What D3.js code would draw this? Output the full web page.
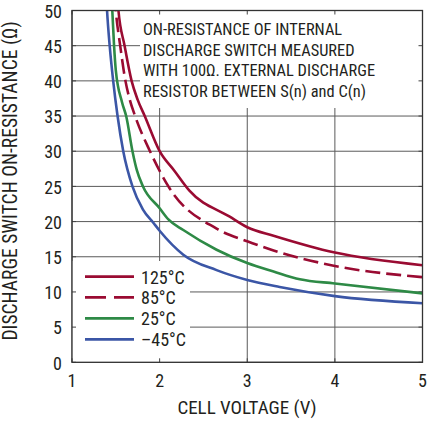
<!DOCTYPE html>
<html><head><meta charset="utf-8">
<script src="https://cdn.jsdelivr.net/npm/d3@7"></script>
<style>
body{margin:0;background:#fff;}
svg text{font-family:"Liberation Sans Narrow","Roboto Condensed","Arial Narrow",sans-serif;fill:#231f20;}
</style></head>
<body><svg id="c" width="427" height="423"></svg>
<script>
const xTicks = [1, 2, 3, 4, 5];
const yTicks = [0, 5, 10, 15, 20, 25, 30, 35, 40, 45, 50];
const seriesNames = ["125°C", "85°C", "25°C", "–45°C"];
const v125 = [[1.50,55],[1.53,50],[1.60,45],[1.68,40],[1.75,37.3],[1.83,35],[2.0,30],[2.17,27.2],[2.34,24.4],[2.8,20.7],[3.0,19.2],[3.3,18.0],[4.0,15.6],[5.0,13.8]];
const v85 = [[1.47,55],[1.50,50],[1.55,45],[1.61,40],[1.66,37.3],[1.72,35],[1.89,30],[2.10,25],[2.65,19.0],[3.0,17.2],[3.3,15.9],[4.0,13.7],[5.0,12.1]];
const v25 = [[1.44,55],[1.46,50],[1.48,45],[1.50,41.5],[1.57,37],[1.62,34.9],[1.69,30],[1.74,27.3],[1.81,25],[2.0,21.9],[2.10,20.3],[2.27,18.8],[2.65,16.0],[3.0,14.1],[3.3,12.9],[3.6,11.8],[4.0,11.2],[5.0,9.8]];
const vm45 = [[1.38,55],[1.40,50],[1.43,45],[1.47,40],[1.52,35],[1.585,30],[1.69,25],[1.81,21.7],[1.93,19.8],[2.0,18.7],[2.27,15.3],[2.65,13.1],[3.0,11.7],[3.37,10.7],[4.0,9.4],[5.0,8.4]];
const annotation = ["ON-RESISTANCE OF INTERNAL","DISCHARGE SWITCH MEASURED","WITH 100Ω. EXTERNAL DISCHARGE","RESISTOR BETWEEN S(n) and C(n)"];
const xTitle = "CELL VOLTAGE (V)";
const yTitle = "DISCHARGE SWITCH ON-RESISTANCE (Ω)";

const colors = ["#9a0b32","#9a0b32","#2e8a46","#3b56a6"];
const dashes = [null,"15,6",null,null];
const data = [v125, v85, v25, vm45];

const L=72, R=422.5, T=10.5, B=362.3;
const x = d3.scaleLinear().domain([1,5]).range([L,R]);
const y = d3.scaleLinear().domain([0,50]).range([B,T]);
const svg = d3.select("#c");

// grid
const g = svg.append("g");
g.selectAll(".vg").data(xTicks).enter().append("line")
 .attr("x1",d=>x(d)).attr("x2",d=>x(d)).attr("y1",T).attr("y2",B)
 .attr("stroke","#5a5a5a").attr("stroke-width",1);
g.selectAll(".hg").data(yTicks).enter().append("line")
 .attr("x1",L).attr("x2",R).attr("y1",d=>y(d)).attr("y2",d=>y(d))
 .attr("stroke","#5a5a5a").attr("stroke-width",1);

// white boxes
svg.append("rect").attr("x",140).attr("y",T).attr("width",R-140).attr("height",108-T).attr("fill","#fff");
svg.append("rect").attr("x",L).attr("y",261).attr("width",190-L).attr("height",B-261).attr("fill","#fff");

// inner ticks
const tk = svg.append("g").attr("stroke","#444").attr("stroke-width",1);
xTicks.forEach(d=>{
  tk.append("line").attr("x1",x(d)).attr("x2",x(d)).attr("y1",T).attr("y2",T+4);
  tk.append("line").attr("x1",x(d)).attr("x2",x(d)).attr("y1",B).attr("y2",B-4);
});
yTicks.forEach(d=>{
  tk.append("line").attr("x1",L).attr("x2",L+4).attr("y1",y(d)).attr("y2",y(d));
  tk.append("line").attr("x1",R).attr("x2",R-4).attr("y1",y(d)).attr("y2",y(d));
});

// annotation
const at = svg.append("text").attr("font-size",16.4);
annotation.forEach((t,i)=>{
  at.append("tspan").attr("x",143).attr("y",35+i*20.7).text(t);
});

// curves
svg.append("clipPath").attr("id","clip").append("rect").attr("x",L).attr("y",T).attr("width",R-L).attr("height",B-T);
const line = d3.line().x(d=>x(d[0])).y(d=>y(d[1])).curve(d3.curveMonotoneX);
const cg = svg.append("g").attr("clip-path","url(#clip)");
data.forEach((s,i)=>{
  cg.append("path").attr("d",line(s)).attr("fill","none")
   .attr("stroke",colors[i]).attr("stroke-width",2.6)
   .attr("stroke-dasharray",dashes[i]);
});

// frame
svg.append("rect").attr("x",L).attr("y",T).attr("width",R-L).attr("height",B-T)
 .attr("fill","none").attr("stroke","#333").attr("stroke-width",1.3);

// legend
const ly = [276.7,297.3,318.3,339.3];
seriesNames.forEach((n,i)=>{
  svg.append("line").attr("x1",85).attr("x2",134).attr("y1",ly[i]).attr("y2",ly[i])
   .attr("stroke",colors[i]).attr("stroke-width",2.8).attr("stroke-dasharray",i===1?"21,8":null);
  svg.append("text").attr("x",141).attr("y",ly[i]+6.8).attr("font-size",18).text(n);
});

// tick labels
svg.selectAll(".yl").data(yTicks).enter().append("text")
 .attr("x",62).attr("y",d=>y(d)+7.2).attr("text-anchor","end").attr("font-size",18).text(d=>d);
svg.selectAll(".xl").data(xTicks).enter().append("text")
 .attr("x",d=>x(d)).attr("y",387).attr("text-anchor","middle").attr("font-size",18).text(d=>d);

// titles
svg.append("text").attr("x",247).attr("y",414).attr("text-anchor","middle").attr("font-size",19).text(xTitle);
svg.append("text").attr("transform","translate(17,181) rotate(-90)").attr("text-anchor","middle").attr("font-size",19.5).text(yTitle);
</script></body></html>
